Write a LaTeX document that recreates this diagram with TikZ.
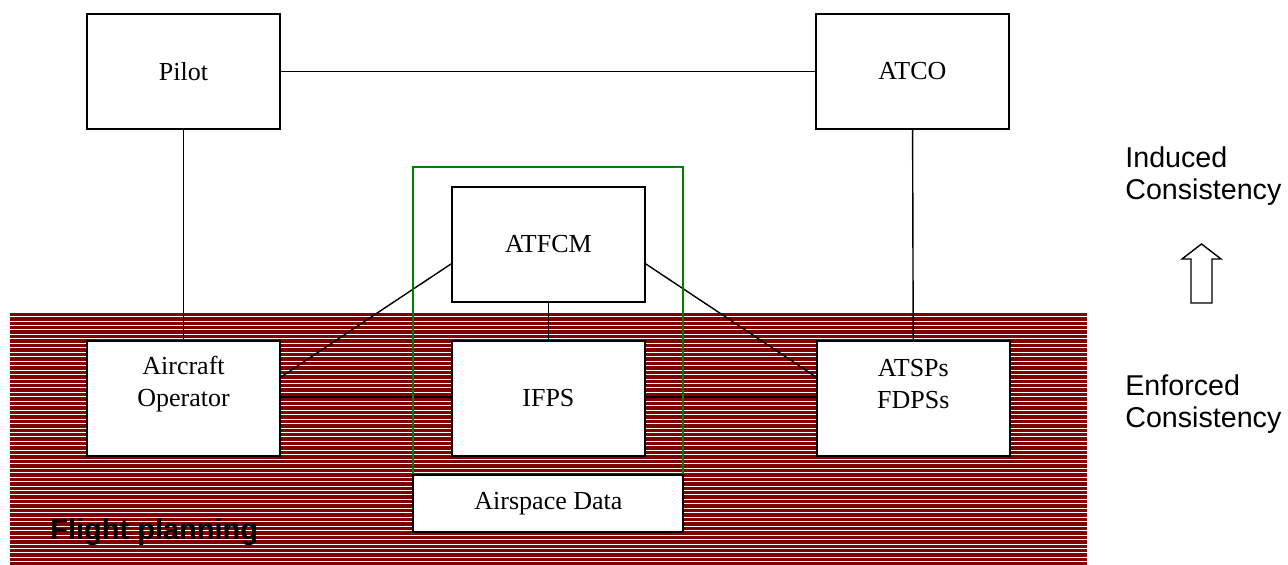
\documentclass[tikz,border=0pt]{standalone}
\usepackage{fontspec}
\setmainfont{Liberation Serif}
\setsansfont{Liberation Sans}
\usepackage{tikz}
\usetikzlibrary{positioning}
\usepackage{xcolor}
\definecolor{fpred}{RGB}{128,0,0}
\definecolor{fpgreen}{RGB}{0,128,0}
\pgfdeclarelayer{hatch}
\pgfdeclarelayer{wires}
\pgfsetlayers{hatch,wires,main}
\tikzstyle{link} = [line width=0.8pt, color=black]
\tikzstyle{actor} = [rectangle, draw=black, fill=white, line width=1.1pt, minimum width=3.86cm, minimum height=2.3cm, inner sep=0pt, text centered, font=\fontsize{14.8}{18.2}\selectfont]
\tikzstyle{boxtext} = [align=center, inner sep=0pt, font=\fontsize{14.8}{18.2}\selectfont]
\tikzstyle{sidetext} = [anchor=west, align=left, inner sep=0pt, font=\sffamily\fontsize{16.3}{18.2}\selectfont]

\begin{document}
\begin{tikzpicture}
\useasboundingbox (0,0) rectangle (25.76,-11.3);

% Flight planning layer
\begin{pgfonlayer}{hatch}
\fill[fpred] (0.2,-6.26) rectangle (21.74,-11.3);
\foreach \y in {0,...,55}
  \draw[white, line width=0.5pt] (0.2,{-6.33-0.0892*\y}) -- (21.74,{-6.33-0.0892*\y});
\node (fp) [anchor=west, inner sep=0pt, font=\sffamily\bfseries\fontsize{16.5}{20}\selectfont] at (1.0,-10.64) {Flight planning};
\end{pgfonlayer}

% Network manager group
\node (nmgroup) [rectangle, draw=fpgreen, line width=0.8pt, minimum width=5.4cm, minimum height=7.3cm] at (10.96,-6.99) {};

% Main actors
\node (pilot) [actor] at (3.67,-1.43) {Pilot};
\node (atco) [actor, right=10.68cm of pilot] {ATCO};

\node (ao) [actor, below=4.2cm of pilot, label={[boxtext, yshift=0.29cm]center:{Aircraft\\Operator}}] {};
\node (ifps) [actor, right=3.40cm of ao] {IFPS};
\node (atsp) [actor, right=3.40cm of ifps, label={[boxtext, yshift=0.29cm]center:{ATSPs\\FDPSs}}] {};
\node (atfcm) [actor, above=0.74cm of ifps] {ATFCM};
\node (asdata) [actor, minimum width=5.4cm, minimum height=1.14cm, below=0.34cm of ifps] {Airspace Data};

% Connections
\begin{pgfonlayer}{wires}
\draw[link] (pilot) -- (atco);
\draw[link] (pilot) -- (ao);
\draw[link] (atco) -- (atsp);
\draw[link] (atfcm) -- (ifps);
\draw[link] ([yshift=-0.39cm]atfcm.west) -- ([yshift=0.43cm]ao.east);
\draw[link] ([yshift=-0.39cm]atfcm.east) -- ([yshift=0.43cm]atsp.west);
\draw[link] ([yshift=0.03cm]ao.east) -- ([yshift=0.03cm]ifps.west);
\draw[link] ([yshift=0.03cm]ifps.east) -- ([yshift=0.03cm]atsp.west);
\end{pgfonlayer}

% Consistency levels
\node (induced) [sidetext] at (22.5,-3.52) {Induced\\Consistency};
\node (enforced) [sidetext] at (22.5,-8.08) {Enforced\\Consistency};
\draw[line width=0.8pt, fill=white] (23.64,-5.18) -- (24.03,-4.88) -- (24.42,-5.18) -- (24.24,-5.18) -- (24.24,-6.06) -- (23.82,-6.06) -- (23.82,-5.18) -- cycle;
\end{tikzpicture}
\end{document}
